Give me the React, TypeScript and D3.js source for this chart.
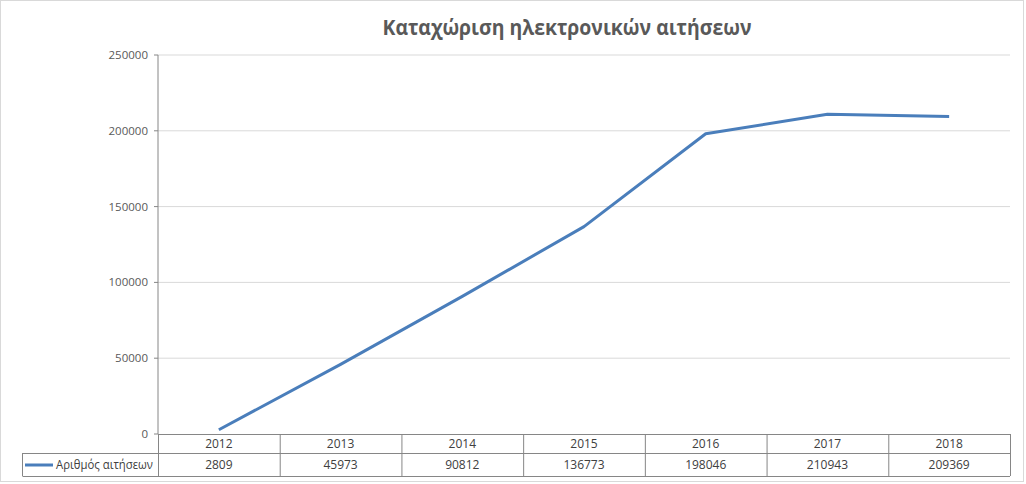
import React from "react";
import * as d3 from "d3";

const title = "Καταχώριση ηλεκτρονικών αιτήσεων";
const seriesName = "Αριθμός αιτήσεων";
const years = ["2012", "2013", "2014", "2015", "2016", "2017", "2018"];
const values = [2809, 45973, 90812, 136773, 198046, 210943, 209369];
const yTicks = [0, 50000, 100000, 150000, 200000, 250000];

const W = 1026;
const H = 484;
const left = 158;
const right = 1010;
const top = 55;
const bottom = 434;
const rowMid = 453;
const tableBottom = 476;

export default function App() {
  const x = d3.scaleBand<string>().domain(years).range([left, right]);
  const y = d3.scaleLinear().domain([0, 250000]).range([bottom, top]);
  const line = d3
    .line<number>()
    .x((_, i) => (x(years[i]) as number) + x.bandwidth() / 2)
    .y((d) => y(d));
  const font = "'Open Sans', 'Liberation Sans', sans-serif";
  return (
    <div style={{ position: "absolute", left: 0, top: 0 }}>
      <svg width={W} height={H} style={{ display: "block", fontFamily: font }}>
        <rect x={0.5} y={0.5} width={W - 3} height={H - 3} fill="#fff" stroke="#d9d9d9" />
        <text
          x={567}
          y={35}
          textAnchor="middle"
          fontSize={22}
          fontWeight="bold"
          fill="#595959"
          textLength={369}
          lengthAdjust="spacingAndGlyphs"
        >
          {title}
        </text>
        {yTicks.map((t) => (
          <g key={t}>
            {t > 0 && (
              <line x1={left} x2={right} y1={y(t)} y2={y(t)} stroke="#d9d9d9" strokeWidth={1} />
            )}
            <line x1={left - 4} x2={left} y1={y(t)} y2={y(t)} stroke="#868686" />
            <text x={148} y={y(t) + 4} textAnchor="end" fontSize={11.5} fill="#595959">
              {t}
            </text>
          </g>
        ))}
        <line x1={left} x2={left} y1={top} y2={bottom} stroke="#868686" />
        {/* table */}
        <line x1={left} x2={right} y1={bottom + 0.5} y2={bottom + 0.5} stroke="#868686" />
        <line x1={22.5} x2={right} y1={rowMid + 0.5} y2={rowMid + 0.5} stroke="#868686" />
        <line x1={22.5} x2={right} y1={tableBottom + 0.5} y2={tableBottom + 0.5} stroke="#868686" />
        <line x1={22.5} x2={22.5} y1={rowMid} y2={tableBottom} stroke="#868686" />
        {years.map((yr, i) => {
          const x0 = x(yr) as number;
          return (
            <g key={yr}>
              <line x1={x0 + 0.5} x2={x0 + 0.5} y1={bottom} y2={tableBottom} stroke="#868686" />
              <text x={x0 + x.bandwidth() / 2} y={448} textAnchor="middle" fontSize={12} fill="#404040">
                {yr}
              </text>
              <text x={x0 + x.bandwidth() / 2} y={469} textAnchor="middle" fontSize={12} fill="#404040">
                {values[i]}
              </text>
            </g>
          );
        })}
        <line x1={right + 0.5} x2={right + 0.5} y1={bottom} y2={tableBottom} stroke="#868686" />
        <line x1={25} x2={53} y1={465} y2={465} stroke="#4a7ebb" strokeWidth={3} />
        <text x={56} y={469} fontSize={12} fill="#404040" textLength={97} lengthAdjust="spacingAndGlyphs">
          {seriesName}
        </text>
        <path d={line(values) || ""} fill="none" stroke="#4a7ebb" strokeWidth={3} strokeLinejoin="round" />
      </svg>
    </div>
  );
}
